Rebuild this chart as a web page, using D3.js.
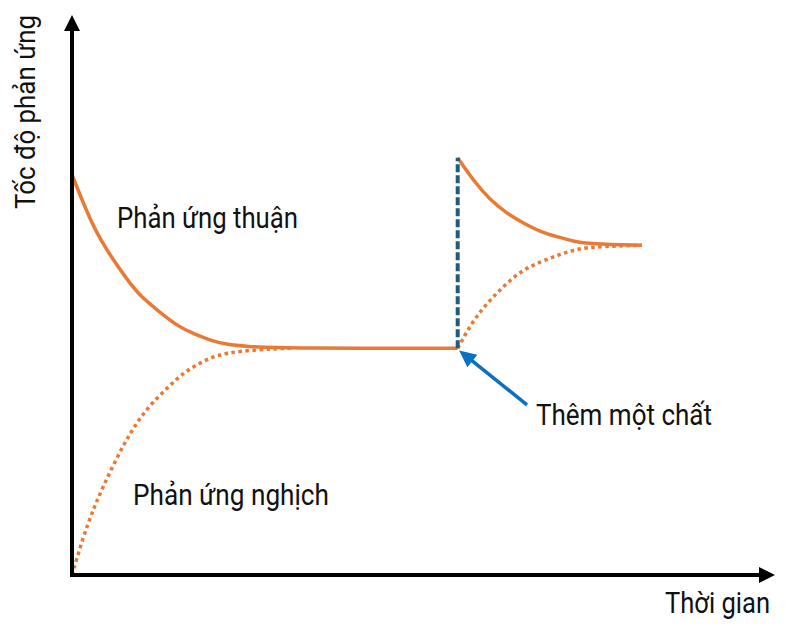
<!DOCTYPE html>
<html><head><meta charset="utf-8">
<script src="https://cdn.jsdelivr.net/npm/d3@7"></script>
<style>html,body{margin:0;padding:0;background:#fff;}svg{display:block;}</style>
</head><body>
<script>
// ---- data (time units 0..100, rate units 0..100) ----
const forwardTime1 = [0, 3, 5.5, 8, 10, 12.5, 15, 17.5, 20, 22, 24.5, 31.5, 55.1];
const forwardRate1 = [71.5, 62, 57, 52.5, 49.5, 47, 44.5, 43, 41.8, 41.2, 40.8, 40.5, 40.5];
const reverseTime1 = [0, 1.6, 3, 4.4, 6.4, 8.3, 10.7, 13.6, 15.9, 18.3, 20.7, 24, 28.7, 31.5];
const reverseRate1 = [0, 6.8, 11.6, 15.7, 20.9, 25.4, 29.8, 33.4, 36.1, 37.9, 39.3, 40, 40.4, 40.5];
const forwardTime2 = [55.1, 57.3, 59.7, 62.1, 64.4, 66.9, 69.3, 71.6, 74, 81.4];
const forwardRate2 = [74.5, 70.5, 67, 64.6, 62.9, 61.3, 60.4, 59.6, 59.1, 58.9];
const reverseTime2 = [55.1, 57.3, 59.7, 62.1, 64.4, 66.9, 69.3, 71.6, 74, 81.4];
const reverseRate2 = [40.5, 45.5, 49.1, 52.1, 54.5, 55.9, 57.1, 58, 58.6, 58.9];
const addTime = 55.1;           // moment a substance is added
const jumpRates = [40.5, 74.5]; // vertical jump of forward rate
const labels = {
  xAxis: "Thời gian",
  yAxis: "Tốc độ phản ứng",
  forward: "Phản ứng thuận",
  reverse: "Phản ứng nghịch",
  add: "Thêm một chất"
};

const W = 785, H = 630;
const orange = "#E97A35", teal = "#1F5C7D", blue = "#0A70C0";
const svg = d3.select("body").append("svg").attr("width", W).attr("height", H);

const x = d3.scaleLinear().domain([0, 100]).range([72, 772]);
const y = d3.scaleLinear().domain([0, 100]).range([575, 15]);

const zip = (ts, rs) => ts.map((t, i) => [t, rs[i]]);
const line = d3.line().x(d => x(d[0])).y(d => y(d[1])).curve(d3.curveBasis);

// reverse (dotted)
[zip(reverseTime1, reverseRate1), zip(reverseTime2, reverseRate2)].forEach(d => {
  svg.append("path").attr("d", line(d)).attr("fill", "none")
    .attr("stroke", orange).attr("stroke-width", 3.5).attr("stroke-dasharray", "3.5,3.5");
});
// forward (solid)
[zip(forwardTime1, forwardRate1), zip(forwardTime2, forwardRate2)].forEach(d => {
  svg.append("path").attr("d", line(d)).attr("fill", "none")
    .attr("stroke", orange).attr("stroke-width", 3.5);
});
// dashed vertical jump
svg.append("line")
  .attr("x1", x(addTime)).attr("x2", x(addTime))
  .attr("y1", y(jumpRates[0])).attr("y2", y(jumpRates[1]))
  .attr("stroke", teal).attr("stroke-width", 4).attr("stroke-dasharray", "8,3");

// axes
const axisG = svg.append("g");
axisG.append("line").attr("x1", x(0)).attr("x2", x(0)).attr("y1", y(0) + 2).attr("y2", y(100) + 12)
  .attr("stroke", "#000").attr("stroke-width", 4);
axisG.append("path").attr("d", `M${x(0)},${y(100)} L${x(0) - 8},${y(100) + 16} L${x(0) + 8},${y(100) + 16} Z`).attr("fill", "#000");
axisG.append("line").attr("x1", x(0) - 2).attr("x2", x(100) - 8).attr("y1", y(0)).attr("y2", y(0))
  .attr("stroke", "#000").attr("stroke-width", 4);
axisG.append("path").attr("d", `M${x(100) + 3},${y(0)} L${x(100) - 13},${y(0) - 8} L${x(100) - 13},${y(0) + 8} Z`).attr("fill", "#000");

// annotation arrow
const ax0 = x(65.0), ay0 = y(30.4), ax1 = x(55.3), ay1 = y(40.1);
const ang = Math.atan2(ay1 - ay0, ax1 - ax0);
const hl = 17, hw = 8;
const bx = ax1 - hl * Math.cos(ang), by = ay1 - hl * Math.sin(ang);
svg.append("line").attr("x1", ax0).attr("y1", ay0).attr("x2", bx + 3 * Math.cos(ang)).attr("y2", by + 3 * Math.sin(ang))
  .attr("stroke", blue).attr("stroke-width", 3.5);
svg.append("path").attr("d",
  `M${ax1},${ay1} L${bx + hw * Math.sin(ang)},${by - hw * Math.cos(ang)} L${bx - hw * Math.sin(ang)},${by + hw * Math.cos(ang)} Z`)
  .attr("fill", blue);

// texts
const font = "Roboto, 'Noto Sans', sans-serif";
function txt(s, px, py, len, rot, fs) {
  const t = svg.append("text").text(s).attr("font-family", font).attr("font-size", fs || 29)
    .attr("fill", "#111").attr("textLength", len).attr("lengthAdjust", "spacingAndGlyphs");
  if (rot) t.attr("transform", `translate(${px},${py}) rotate(-90)`);
  else t.attr("x", px).attr("y", py);
  return t;
}
txt(labels.forward, 117, 228, 181);
txt(labels.reverse, 133, 505, 196);
txt(labels.add, 536, 425, 176);
txt(labels.xAxis, 665, 613, 105);
txt(labels.yAxis, 35, 209, 194, true, 28);
</script>
</body></html>
